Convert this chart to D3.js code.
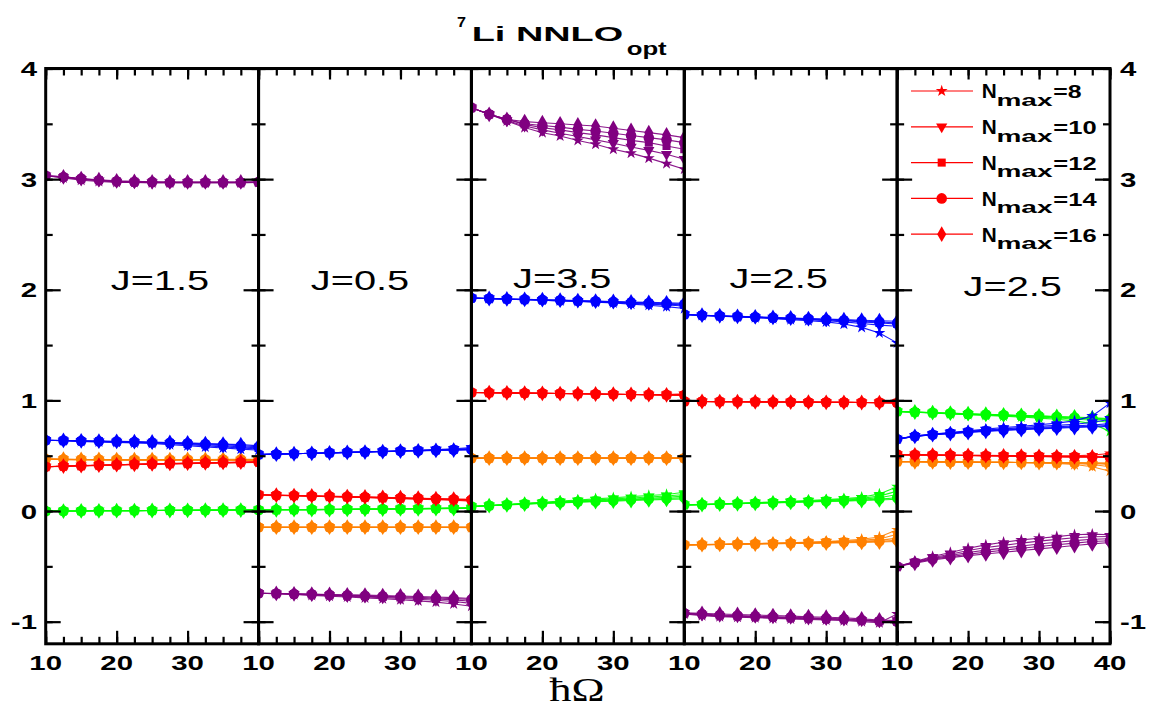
<!DOCTYPE html>
<html><head><meta charset="utf-8">
<script src="https://cdn.jsdelivr.net/npm/d3@7"></script>
<style>body{margin:0;background:#fff}</style>
</head><body><svg id="c" width="1150" height="709"></svg>
<script>
// ---------------- DATA ----------------
const hw = [10,12.5,15,17.5,20,22.5,25,27.5,30,32.5,35,37.5,40];
const nmaxLabels = ["8","10","12","14","16"];
const panelLabels = ["J=1.5","J=0.5","J=3.5","J=2.5","J=2.5"];
const yTickValues = [-1,0,1,2,3,4];
const xTickValues = [10,20,30];
const xTickValuesLast = [10,20,30,40];
const seriesColors = {purple:"#800080", blue:"#0000ff", red:"#ff0000", orange:"#ff8000", green:"#00ff00"};

// Panel 1 (J=1.5): rows = Nmax 8,10,12,14,16
const p1Purple = [
 [3.03,3.01,2.99,2.98,2.97,2.97,2.965,2.965,2.965,2.965,2.965,2.965,2.97],
 [3.03,3.015,3.0,2.985,2.975,2.97,2.97,2.97,2.97,2.97,2.97,2.97,2.97],
 [3.03,3.02,3.0,2.99,2.98,2.975,2.97,2.97,2.97,2.97,2.97,2.97,2.97],
 [3.03,3.02,3.005,2.99,2.98,2.975,2.975,2.97,2.97,2.97,2.97,2.97,2.975],
 [3.03,3.02,3.005,2.995,2.985,2.98,2.975,2.975,2.975,2.975,2.975,2.975,2.975]];
const p1Blue = [
 [0.64,0.635,0.63,0.625,0.62,0.615,0.61,0.60,0.59,0.58,0.57,0.56,0.55],
 [0.64,0.635,0.63,0.627,0.623,0.62,0.615,0.61,0.60,0.59,0.58,0.57,0.56],
 [0.64,0.637,0.633,0.63,0.625,0.622,0.618,0.613,0.607,0.60,0.59,0.58,0.57],
 [0.64,0.637,0.634,0.63,0.628,0.625,0.62,0.617,0.612,0.606,0.60,0.59,0.58],
 [0.64,0.638,0.635,0.632,0.63,0.627,0.624,0.62,0.616,0.61,0.605,0.60,0.59]];
const p1Red = [
 [0.40,0.404,0.408,0.412,0.416,0.42,0.423,0.426,0.429,0.432,0.435,0.438,0.44],
 [0.40,0.405,0.409,0.413,0.417,0.421,0.424,0.427,0.43,0.433,0.436,0.439,0.442],
 [0.40,0.405,0.41,0.414,0.418,0.422,0.425,0.428,0.431,0.434,0.437,0.44,0.443],
 [0.40,0.406,0.41,0.414,0.418,0.422,0.426,0.429,0.432,0.435,0.438,0.441,0.444],
 [0.40,0.406,0.411,0.415,0.419,0.423,0.426,0.43,0.433,0.436,0.439,0.442,0.445]];
const p1Orange = [
 [0.47,0.465,0.463,0.462,0.461,0.46,0.46,0.46,0.46,0.46,0.46,0.458,0.455],
 [0.47,0.466,0.464,0.463,0.462,0.462,0.462,0.462,0.462,0.462,0.462,0.461,0.46],
 [0.47,0.467,0.465,0.464,0.464,0.463,0.463,0.463,0.463,0.464,0.464,0.464,0.463],
 [0.47,0.467,0.466,0.465,0.465,0.464,0.464,0.464,0.465,0.465,0.465,0.466,0.466],
 [0.47,0.468,0.466,0.466,0.465,0.465,0.465,0.465,0.466,0.466,0.467,0.468,0.468]];
const p1Green = [
 [0.0,0.0,0.001,0.002,0.003,0.004,0.005,0.006,0.007,0.008,0.009,0.011,0.013],
 [0.0,0.0,0.001,0.002,0.003,0.004,0.005,0.006,0.007,0.008,0.009,0.01,0.012],
 [0.0,0.0,0.001,0.002,0.003,0.004,0.005,0.006,0.007,0.008,0.009,0.01,0.011],
 [0.0,0.0,0.001,0.002,0.003,0.004,0.005,0.006,0.007,0.007,0.008,0.009,0.01],
 [0.0,0.0,0.001,0.002,0.003,0.004,0.005,0.005,0.006,0.007,0.008,0.009,0.01]];

// Panel 2 (J=0.5)
const p2Purple = [
 [-0.743,-0.748,-0.755,-0.762,-0.77,-0.777,-0.785,-0.793,-0.802,-0.812,-0.823,-0.84,-0.86],
 [-0.743,-0.747,-0.752,-0.758,-0.764,-0.77,-0.776,-0.783,-0.79,-0.798,-0.807,-0.818,-0.835],
 [-0.743,-0.746,-0.75,-0.755,-0.76,-0.765,-0.77,-0.776,-0.782,-0.788,-0.795,-0.803,-0.815],
 [-0.743,-0.746,-0.749,-0.753,-0.757,-0.761,-0.765,-0.77,-0.775,-0.78,-0.786,-0.792,-0.80],
 [-0.743,-0.745,-0.748,-0.751,-0.754,-0.757,-0.76,-0.764,-0.768,-0.772,-0.777,-0.783,-0.79]];
const p2Blue = [
 [0.51,0.514,0.518,0.522,0.526,0.53,0.535,0.54,0.545,0.55,0.556,0.563,0.575],
 [0.51,0.514,0.518,0.522,0.526,0.53,0.534,0.538,0.543,0.548,0.553,0.558,0.565],
 [0.51,0.514,0.518,0.522,0.526,0.53,0.534,0.538,0.542,0.546,0.55,0.555,0.56],
 [0.51,0.514,0.518,0.522,0.526,0.53,0.534,0.538,0.542,0.545,0.549,0.553,0.556],
 [0.51,0.514,0.518,0.522,0.526,0.53,0.533,0.537,0.541,0.544,0.548,0.551,0.553]];
const p2Red = [
 [0.147,0.142,0.138,0.134,0.13,0.126,0.122,0.117,0.112,0.107,0.102,0.097,0.09],
 [0.147,0.143,0.139,0.135,0.131,0.127,0.123,0.119,0.115,0.11,0.106,0.101,0.096],
 [0.147,0.143,0.139,0.136,0.132,0.128,0.125,0.121,0.117,0.113,0.109,0.105,0.10],
 [0.147,0.143,0.14,0.136,0.133,0.13,0.126,0.123,0.119,0.115,0.111,0.107,0.103],
 [0.147,0.143,0.14,0.137,0.134,0.131,0.128,0.124,0.12,0.116,0.112,0.108,0.105]];
const p2Orange = [
 [-0.146,-0.146,-0.146,-0.146,-0.146,-0.146,-0.146,-0.146,-0.146,-0.146,-0.147,-0.148,-0.15],
 [-0.146,-0.146,-0.146,-0.146,-0.146,-0.146,-0.146,-0.146,-0.146,-0.146,-0.146,-0.147,-0.148],
 [-0.146,-0.146,-0.146,-0.146,-0.146,-0.146,-0.146,-0.146,-0.146,-0.146,-0.146,-0.146,-0.147],
 [-0.146,-0.146,-0.146,-0.146,-0.146,-0.146,-0.146,-0.146,-0.146,-0.146,-0.146,-0.146,-0.146],
 [-0.146,-0.146,-0.146,-0.146,-0.146,-0.146,-0.146,-0.146,-0.146,-0.146,-0.146,-0.146,-0.146]];
const p2Green = [
 [0.01,0.011,0.012,0.013,0.015,0.016,0.017,0.019,0.021,0.023,0.025,0.027,0.03],
 [0.01,0.011,0.012,0.013,0.015,0.016,0.017,0.018,0.02,0.022,0.024,0.026,0.028],
 [0.01,0.011,0.012,0.013,0.014,0.016,0.017,0.018,0.02,0.021,0.023,0.025,0.027],
 [0.01,0.011,0.012,0.013,0.014,0.015,0.016,0.018,0.019,0.021,0.022,0.024,0.026],
 [0.01,0.011,0.012,0.013,0.014,0.015,0.016,0.017,0.019,0.02,0.022,0.023,0.025]];

// Panel 3 (J=3.5)
const p3Purple = [
 [3.646,3.586,3.525,3.466,3.42,3.39,3.35,3.315,3.27,3.235,3.19,3.14,3.09],
 [3.646,3.586,3.53,3.48,3.445,3.415,3.385,3.355,3.325,3.29,3.26,3.225,3.18],
 [3.646,3.586,3.54,3.495,3.465,3.445,3.42,3.40,3.375,3.35,3.33,3.30,3.27],
 [3.646,3.586,3.54,3.50,3.485,3.47,3.45,3.435,3.415,3.395,3.375,3.355,3.33],
 [3.646,3.586,3.54,3.52,3.51,3.50,3.49,3.48,3.46,3.44,3.42,3.40,3.375]];
const p3Blue = [
 [1.925,1.92,1.915,1.91,1.905,1.90,1.895,1.888,1.88,1.87,1.86,1.848,1.83],
 [1.925,1.92,1.915,1.91,1.905,1.90,1.896,1.89,1.884,1.877,1.87,1.862,1.853],
 [1.925,1.92,1.916,1.912,1.907,1.903,1.898,1.893,1.888,1.882,1.876,1.87,1.863],
 [1.925,1.921,1.917,1.913,1.909,1.905,1.90,1.896,1.891,1.886,1.881,1.876,1.87],
 [1.925,1.921,1.917,1.914,1.91,1.906,1.902,1.898,1.894,1.89,1.886,1.882,1.878]];
const p3Red = [
 [1.072,1.07,1.068,1.066,1.064,1.062,1.06,1.058,1.056,1.054,1.052,1.052,1.06],
 [1.072,1.07,1.068,1.066,1.064,1.062,1.06,1.058,1.056,1.054,1.052,1.05,1.052],
 [1.072,1.07,1.068,1.066,1.064,1.062,1.06,1.058,1.056,1.054,1.052,1.05,1.048],
 [1.072,1.07,1.068,1.066,1.064,1.062,1.06,1.058,1.056,1.054,1.052,1.05,1.048],
 [1.072,1.07,1.068,1.066,1.064,1.062,1.06,1.058,1.056,1.054,1.052,1.05,1.048]];
const p3Orange = [
 [0.478,0.478,0.478,0.478,0.478,0.478,0.478,0.478,0.478,0.478,0.478,0.479,0.48],
 [0.478,0.478,0.478,0.478,0.478,0.478,0.478,0.478,0.478,0.478,0.478,0.478,0.479],
 [0.478,0.478,0.478,0.478,0.478,0.478,0.478,0.478,0.478,0.478,0.478,0.478,0.478],
 [0.478,0.478,0.478,0.478,0.478,0.478,0.478,0.478,0.478,0.478,0.478,0.478,0.478],
 [0.478,0.478,0.478,0.478,0.478,0.478,0.478,0.478,0.478,0.478,0.478,0.478,0.478]];
const p3Green = [
 [0.04,0.05,0.06,0.07,0.08,0.09,0.10,0.11,0.12,0.13,0.14,0.15,0.17],
 [0.04,0.05,0.058,0.067,0.075,0.083,0.092,0.10,0.11,0.118,0.127,0.136,0.15],
 [0.04,0.049,0.057,0.065,0.072,0.079,0.087,0.094,0.101,0.108,0.116,0.124,0.135],
 [0.04,0.048,0.056,0.063,0.07,0.076,0.083,0.089,0.095,0.101,0.108,0.114,0.122],
 [0.04,0.048,0.055,0.062,0.068,0.074,0.08,0.085,0.09,0.095,0.10,0.105,0.11]];

// Panel 4 (J=2.5)
const p4Purple = [
 [-0.93,-0.945,-0.955,-0.96,-0.965,-0.97,-0.975,-0.98,-0.985,-0.99,-1.0,-1.01,-0.93],
 [-0.925,-0.94,-0.95,-0.955,-0.96,-0.965,-0.97,-0.975,-0.98,-0.985,-0.99,-1.0,-0.99],
 [-0.925,-0.935,-0.945,-0.95,-0.955,-0.96,-0.965,-0.97,-0.975,-0.98,-0.99,-0.995,-1.0],
 [-0.924,-0.93,-0.94,-0.945,-0.95,-0.955,-0.96,-0.965,-0.97,-0.975,-0.985,-0.995,-1.0],
 [-0.92,-0.925,-0.93,-0.935,-0.94,-0.945,-0.95,-0.955,-0.96,-0.965,-0.975,-0.985,-0.99]];
const p4Blue = [
 [1.776,1.767,1.76,1.754,1.748,1.739,1.73,1.72,1.71,1.69,1.66,1.61,1.52],
 [1.776,1.768,1.762,1.756,1.75,1.744,1.737,1.73,1.72,1.71,1.695,1.68,1.67],
 [1.776,1.769,1.763,1.757,1.752,1.746,1.74,1.734,1.727,1.72,1.71,1.70,1.69],
 [1.776,1.77,1.764,1.758,1.753,1.748,1.743,1.737,1.731,1.725,1.718,1.71,1.70],
 [1.776,1.77,1.765,1.76,1.755,1.75,1.745,1.74,1.735,1.73,1.725,1.72,1.715]];
const p4Red = [
 [0.991,0.99,0.989,0.988,0.987,0.986,0.985,0.984,0.983,0.982,0.981,0.981,0.985],
 [0.991,0.99,0.989,0.988,0.987,0.986,0.985,0.984,0.983,0.982,0.981,0.98,0.98],
 [0.991,0.99,0.989,0.988,0.987,0.986,0.985,0.984,0.983,0.982,0.981,0.98,0.978],
 [0.991,0.99,0.989,0.988,0.987,0.986,0.985,0.984,0.983,0.982,0.981,0.98,0.977],
 [0.991,0.99,0.989,0.988,0.987,0.986,0.985,0.984,0.983,0.982,0.981,0.979,0.977]];
const p4Orange = [
 [-0.306,-0.303,-0.30,-0.297,-0.294,-0.29,-0.286,-0.281,-0.275,-0.267,-0.255,-0.235,-0.17],
 [-0.306,-0.304,-0.301,-0.298,-0.295,-0.292,-0.288,-0.284,-0.279,-0.273,-0.265,-0.252,-0.21],
 [-0.306,-0.304,-0.302,-0.299,-0.296,-0.293,-0.29,-0.287,-0.283,-0.279,-0.273,-0.265,-0.245],
 [-0.306,-0.304,-0.302,-0.30,-0.297,-0.295,-0.292,-0.289,-0.286,-0.283,-0.279,-0.274,-0.265],
 [-0.306,-0.304,-0.302,-0.30,-0.298,-0.296,-0.294,-0.292,-0.29,-0.287,-0.284,-0.28,-0.276]];
const p4Green = [
 [0.056,0.06,0.065,0.07,0.076,0.082,0.088,0.095,0.103,0.112,0.125,0.155,0.22],
 [0.056,0.059,0.064,0.069,0.074,0.079,0.085,0.091,0.098,0.106,0.116,0.135,0.18],
 [0.056,0.059,0.063,0.068,0.072,0.077,0.082,0.087,0.093,0.1,0.108,0.12,0.15],
 [0.056,0.058,0.062,0.067,0.071,0.075,0.079,0.084,0.089,0.094,0.1,0.108,0.12],
 [0.056,0.058,0.062,0.066,0.07,0.074,0.078,0.082,0.086,0.09,0.095,0.1,0.107]];

// Panel 5 (J=2.5)
const p5Purple = [
 [-0.502,-0.457,-0.411,-0.375,-0.336,-0.306,-0.282,-0.261,-0.246,-0.231,-0.215,-0.209,-0.215],
 [-0.502,-0.46,-0.42,-0.39,-0.357,-0.33,-0.31,-0.29,-0.272,-0.256,-0.242,-0.232,-0.23],
 [-0.502,-0.465,-0.428,-0.402,-0.375,-0.353,-0.335,-0.316,-0.298,-0.282,-0.267,-0.255,-0.25],
 [-0.502,-0.468,-0.435,-0.412,-0.39,-0.371,-0.354,-0.337,-0.32,-0.305,-0.29,-0.276,-0.268],
 [-0.502,-0.472,-0.442,-0.421,-0.403,-0.388,-0.373,-0.357,-0.342,-0.327,-0.312,-0.297,-0.285]];
const p5Blue = [
 [0.65,0.68,0.695,0.71,0.725,0.74,0.755,0.765,0.78,0.795,0.815,0.86,0.975],
 [0.65,0.677,0.693,0.707,0.72,0.732,0.743,0.754,0.765,0.775,0.785,0.80,0.83],
 [0.65,0.676,0.691,0.704,0.716,0.727,0.737,0.746,0.755,0.763,0.77,0.778,0.79],
 [0.65,0.675,0.69,0.702,0.713,0.723,0.732,0.74,0.748,0.755,0.761,0.767,0.775],
 [0.65,0.675,0.69,0.70,0.71,0.72,0.728,0.736,0.743,0.749,0.755,0.76,0.765]];
const p5Red = [
 [0.51,0.508,0.506,0.505,0.504,0.503,0.502,0.501,0.50,0.50,0.50,0.505,0.52],
 [0.51,0.508,0.506,0.504,0.503,0.501,0.5,0.498,0.497,0.495,0.494,0.493,0.495],
 [0.51,0.508,0.506,0.504,0.502,0.50,0.498,0.496,0.494,0.492,0.49,0.488,0.485],
 [0.51,0.508,0.506,0.504,0.502,0.50,0.498,0.496,0.494,0.492,0.49,0.488,0.485],
 [0.51,0.508,0.506,0.504,0.502,0.50,0.498,0.496,0.494,0.492,0.49,0.488,0.485]];
const p5Orange = [
 [0.445,0.445,0.444,0.443,0.442,0.441,0.44,0.438,0.435,0.43,0.42,0.40,0.36],
 [0.445,0.445,0.444,0.443,0.442,0.441,0.44,0.439,0.437,0.434,0.43,0.42,0.40],
 [0.445,0.445,0.444,0.443,0.442,0.441,0.44,0.439,0.438,0.436,0.434,0.43,0.42],
 [0.445,0.445,0.444,0.443,0.442,0.441,0.44,0.439,0.438,0.437,0.436,0.434,0.43],
 [0.445,0.445,0.444,0.443,0.442,0.441,0.44,0.439,0.438,0.437,0.436,0.435,0.433]];
const p5Green = [
 [0.90,0.893,0.886,0.878,0.871,0.864,0.857,0.85,0.84,0.83,0.815,0.79,0.72],
 [0.90,0.893,0.887,0.88,0.874,0.868,0.862,0.856,0.849,0.841,0.832,0.82,0.80],
 [0.90,0.894,0.888,0.882,0.876,0.871,0.866,0.86,0.854,0.848,0.841,0.833,0.82],
 [0.90,0.894,0.889,0.883,0.878,0.873,0.868,0.863,0.858,0.852,0.846,0.84,0.83],
 [0.90,0.895,0.89,0.885,0.88,0.875,0.87,0.865,0.86,0.855,0.85,0.843,0.835]];

// ---------------- BUILD ----------------
const panels = [
 {label:panelLabels[0], series:{purple:p1Purple, blue:p1Blue, red:p1Red, orange:p1Orange, green:p1Green}},
 {label:panelLabels[1], series:{purple:p2Purple, blue:p2Blue, red:p2Red, orange:p2Orange, green:p2Green}},
 {label:panelLabels[2], series:{purple:p3Purple, blue:p3Blue, red:p3Red, orange:p3Orange, green:p3Green}},
 {label:panelLabels[3], series:{purple:p4Purple, blue:p4Blue, red:p4Red, orange:p4Orange, green:p4Green}},
 {label:panelLabels[4], series:{purple:p5Purple, blue:p5Blue, red:p5Red, orange:p5Orange, green:p5Green}}
];
const colorOrder = ["green","orange","red","blue","purple"];

const svg = d3.select("#c");
const SANS = "'Liberation Sans', Arial, Helvetica, sans-serif";
const L = 45.7, R = 1110, T = 68.5, B = 643.8;
const pw = (R - L) / panels.length;
const y = d3.scaleLinear().domain([-1.2, 4]).range([B, T]);

const symTypes = [d3.symbolStar, d3.symbolTriangle, d3.symbolSquare, d3.symbolCircle, d3.symbolDiamond];
const symSizes = [44, 55, 65, 88, 72];
const symRot = [0, 180, 0, 0, 0];
function sym(i){ return d3.symbol().type(symTypes[i]).size(symSizes[i])(); }

function stext(parent, x, yb, str, o){
  const t = parent.append("text")
    .attr("font-size", o.size).attr("font-weight", o.weight || "bold")
    .attr("font-family", o.family || SANS).attr("text-anchor", o.anchor || "start")
    .attr("fill", "#000").text(str);
  let sx = o.sx || 1;
  if (o.width) { const len = t.node().getComputedTextLength(); sx = o.width / len; }
  t.attr("transform", `translate(${x},${yb}) scale(${sx},1)`);
  return t;
}

const defs = svg.append("defs");
const dataLayer = svg.append("g");
const frameLayer = svg.append("g");
const textLayer = svg.append("g");

const minorX = d3.range(10, 40.01, 2.5);
const majorX = [10, 20, 30, 40];
const minorY = d3.range(-1, 4.01, 0.5);
const majorY = yTickValues;

panels.forEach((p, pi) => {
  const x0 = L + pi * pw, x1 = x0 + pw;
  const x = d3.scaleLinear().domain([10, 40]).range([x0, x1]);
  defs.append("clipPath").attr("id", "clip" + pi)
    .append("rect").attr("x", x0).attr("y", T).attr("width", pw).attr("height", B - T);
  const g = dataLayer.append("g").attr("clip-path", `url(#clip${pi})`);
  const line = d3.line().x((d, i) => x(hw[i])).y(d => y(d));
  colorOrder.forEach(cname => {
    const rows = p.series[cname];
    const col = seriesColors[cname];
    rows.forEach((vals, ni) => {
      g.append("path").attr("d", line(vals)).attr("fill", "none")
        .attr("stroke", col).attr("stroke-width", 1.1).attr("stroke-opacity", 0.9);
      g.selectAll(null).data(vals).join("path")
        .attr("d", sym(ni))
        .attr("transform", (d, i) => `translate(${x(hw[i])},${y(d)}) rotate(${symRot[ni]})`)
        .attr("fill", col);
    });
  });

  // frame + ticks
  const fg = frameLayer.append("g");
  const tickStyle = sel => { sel.select(".domain").remove(); sel.selectAll("line").attr("stroke", "#000").attr("stroke-width", 2.2); };
  fg.append("g").attr("transform", `translate(0,${B})`).call(d3.axisBottom(x).tickValues(minorX).tickSize(-7).tickFormat("")).call(tickStyle);
  fg.append("g").attr("transform", `translate(0,${B})`).call(d3.axisBottom(x).tickValues(majorX).tickSize(-13).tickFormat("")).call(tickStyle);
  fg.append("g").attr("transform", `translate(0,${T})`).call(d3.axisTop(x).tickValues(minorX).tickSize(-7).tickFormat("")).call(tickStyle);
  fg.append("g").attr("transform", `translate(0,${T})`).call(d3.axisTop(x).tickValues(majorX).tickSize(-11).tickFormat("")).call(tickStyle);
  fg.append("g").attr("transform", `translate(${x0},0)`).call(d3.axisLeft(y).tickValues(minorY).tickSize(-7).tickFormat("")).call(tickStyle);
  fg.append("g").attr("transform", `translate(${x0},0)`).call(d3.axisLeft(y).tickValues(majorY).tickSize(-15).tickFormat("")).call(tickStyle);
  fg.append("g").attr("transform", `translate(${x1},0)`).call(d3.axisRight(y).tickValues(minorY).tickSize(-7).tickFormat("")).call(tickStyle);
  fg.append("g").attr("transform", `translate(${x1},0)`).call(d3.axisRight(y).tickValues(majorY).tickSize(-15).tickFormat("")).call(tickStyle);
  fg.append("rect").attr("x", x0).attr("y", T).attr("width", pw).attr("height", B - T)
    .attr("fill", "none").attr("stroke", "#000").attr("stroke-width", 3);

  // x tick labels
  const xl = pi === panels.length - 1 ? xTickValuesLast : xTickValues;
  xl.forEach(v => stext(textLayer, x(v), 670, String(v), {size: 21, anchor: "middle", sx: 1.4}));

  // J label
  const jPos = [[26.1, 290], [24.3, 290], [22.8, 288], [23.3, 288], [26.3, 296]][pi];
  stext(textLayer, x(jPos[0]), jPos[1], p.label, {size: 28, weight: "normal", anchor: "middle", sx: 1.42});
});

// y tick labels (left and right)
yTickValues.forEach(v => {
  stext(textLayer, 37, y(v) + 7.5, String(v), {size: 21, anchor: "end", sx: 1.4});
  stext(textLayer, 1120, y(v) + 7.5, String(v), {size: 21, anchor: "start", sx: 1.4});
});

// Title
stext(textLayer, 457, 27, "7", {size: 15, width: 9});
stext(textLayer, 471.7, 40.5, "Li NNLO", {size: 21, width: 151.6});
stext(textLayer, 626.7, 55, "opt", {size: 18, width: 40});

// x axis label (upright h-bar)
stext(textLayer, 577, 701, "\u0127\u03A9", {size: 33, weight: "normal", family: "'Liberation Serif', 'DejaVu Serif', serif", anchor: "middle", sx: 1.35});

// Legend
const leg = svg.append("g");
nmaxLabels.forEach((n, i) => {
  const yc = 91 + i * 35.8;
  leg.append("line").attr("x1", 911).attr("x2", 973).attr("y1", yc).attr("y2", yc)
    .attr("stroke", "#ff0000").attr("stroke-width", 1.2);
  leg.append("path").attr("d", sym(i)).attr("fill", "#ff0000")
    .attr("transform", `translate(941.7,${yc}) rotate(${symRot[i]})`);
  stext(leg, 981.7, yc + 7.3, "N", {size: 20, width: 15});
  stext(leg, 996.5, yc + 14.7, "max", {size: 17, width: 56});
  stext(leg, 1053.3, yc + 7.3, "=" + n, {size: 19, width: n.length === 1 ? 28.3 : 43.3});
});
</script>
</body></html>
